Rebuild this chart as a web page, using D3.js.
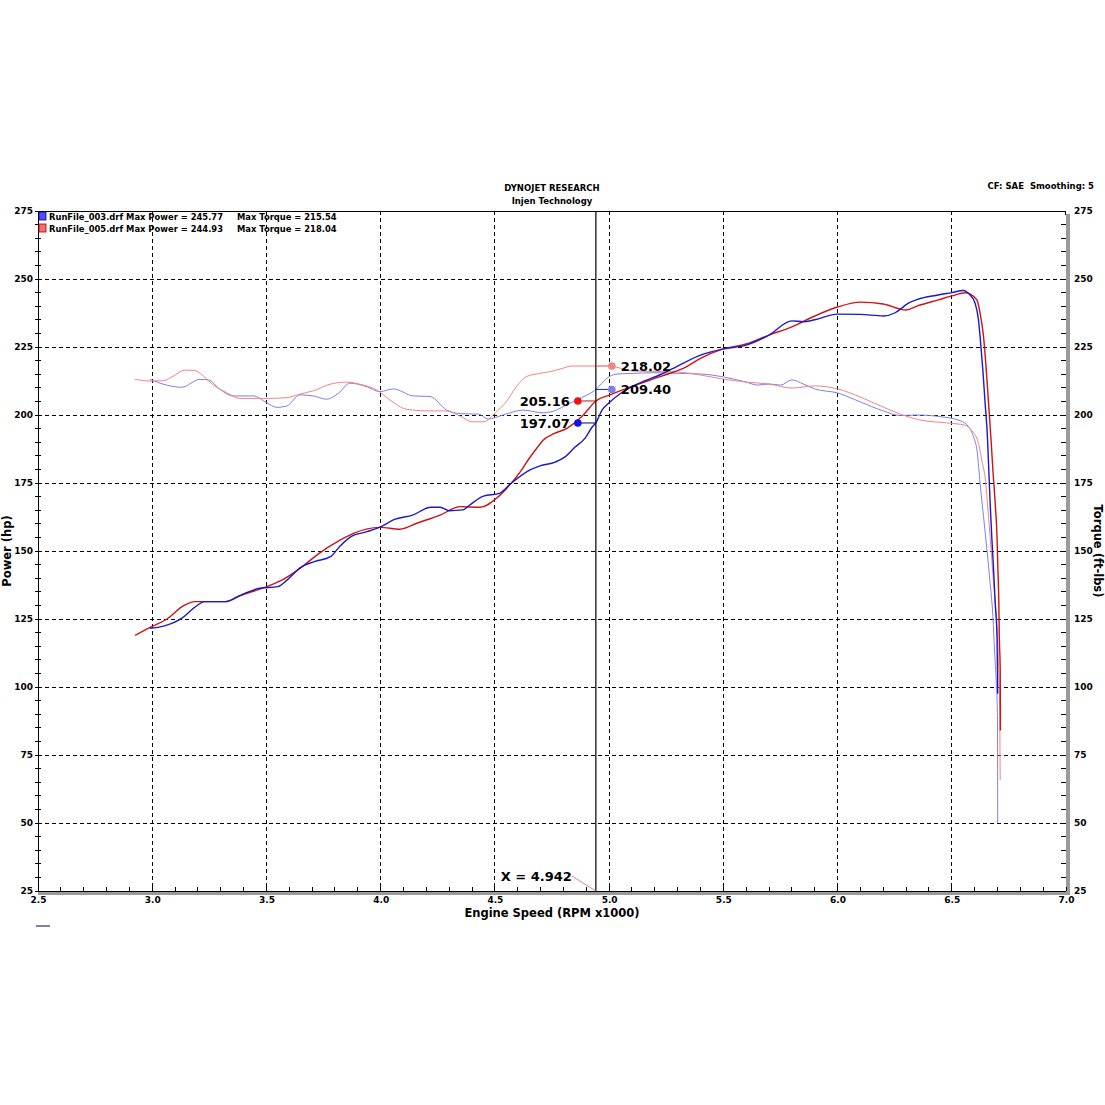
<!DOCTYPE html>
<html><head><meta charset="utf-8">
<script src="https://cdn.jsdelivr.net/npm/d3@7/dist/d3.min.js"></script>
<style>
html,body{margin:0;padding:0;background:#fff;}
svg{display:block;}
text{font-family:"DejaVu Sans",Verdana,sans-serif;font-weight:bold;fill:#000;}
</style></head><body>
<script>
// ---------- data ----------
const yTicks = [25,50,75,100,125,150,175,200,225,250,275];
const xTicks = [2.5,3.0,3.5,4.0,4.5,5.0,5.5,6.0,6.5,7.0];

const bluePowerRpm = [2.99,3.05,3.13,3.18,3.23,3.32,3.38,3.47,3.55,3.59,3.65,3.71,3.78,3.82,3.87,3.94,4.00,4.06,4.14,4.22,4.26,4.30,4.36,4.39,4.45,4.52,4.57,4.654,4.698,4.764,4.807,4.851,4.895,4.926,4.942,4.969,5.0,5.048,5.101,5.158,5.223,5.30,5.40,5.50,5.60,5.70,5.80,5.85,5.90,6.00,6.10,6.20,6.25,6.28,6.30,6.35,6.44,6.50,6.55,6.565,6.58,6.602,6.617,6.624,6.636,6.646,6.656,6.662,6.668,6.675,6.683,6.690,6.698,6.700,6.701];
const bluePower    = [121.6,122.4,125.3,128.9,131.4,131.4,133.5,136.3,136.9,139.3,144.0,146.1,147.9,151.6,155.3,157.1,158.9,161.6,163.2,166.1,166.1,164.8,165.1,166.9,170.2,171.2,174.8,179.8,181.3,182.7,184.6,188.2,191.5,195.6,197.07,201.8,204.5,207.8,210.5,212.6,214.8,218.0,222.0,224.3,225.7,229.4,234.6,234.3,235.0,237.1,237.0,236.4,237.5,239.2,240.6,242.5,244.1,245.0,245.77,245.3,244.1,241.1,234.9,228.8,216.5,204.3,192.0,179.8,167.6,155.3,143.1,130.9,118.6,106.4,97.5];

const redPowerRpm = [2.925,2.998,3.063,3.136,3.187,3.319,3.384,3.501,3.574,3.647,3.720,3.822,3.881,3.997,4.085,4.158,4.260,4.348,4.435,4.515,4.567,4.61,4.65,4.69,4.712,4.76,4.815,4.887,4.942,5.004,5.106,5.223,5.34,5.40,5.50,5.60,5.70,5.80,5.90,6.00,6.10,6.20,6.30,6.35,6.44,6.50,6.56,6.58,6.610,6.624,6.639,6.651,6.661,6.671,6.680,6.690,6.698,6.702,6.706,6.708,6.712,6.713];
const redPower    = [119.0,122.2,124.9,129.8,131.4,131.4,133.5,136.9,139.6,143.6,148.5,154.0,156.5,158.7,158.0,160.2,163.2,166.3,166.1,170.0,174.5,179.0,184.0,188.5,190.8,193.2,195.1,200.0,205.16,207.4,210.7,214.1,217.8,220.8,224.3,226.1,229.4,232.4,236.4,239.7,241.5,240.8,238.6,240.1,242.3,243.8,244.93,244.5,242.3,237.4,228.8,216.5,204.3,192.0,179.8,167.6,155.3,143.1,130.9,118.6,106.4,84.0];

const blueTorqueRpm = [2.990,3.063,3.129,3.209,3.246,3.297,3.355,3.443,3.501,3.545,3.589,3.647,3.705,3.764,3.815,3.866,3.939,3.997,4.056,4.143,4.216,4.289,4.35,4.43,4.47,4.536,4.623,4.71,4.769,4.813,4.857,4.942,4.99,5.03,5.10,5.20,5.30,5.40,5.50,5.60,5.65,5.70,5.75,5.80,5.85,5.90,6.00,6.10,6.20,6.275,6.348,6.449,6.537,6.573,6.595,6.612,6.624,6.639,6.654,6.668,6.680,6.687,6.695,6.700,6.701];
const blueTorque    = [213.1,211.0,210.2,213.1,212.9,209.4,207.0,207.0,204.5,202.8,203.3,207.4,207.0,205.8,208.0,211.7,210.4,208.6,209.6,207.0,206.8,201.8,200.5,200.3,198.5,200.0,201.8,200.8,201.8,203.7,205.5,209.4,213.5,215.0,215.3,215.54,215.3,215.1,214.0,212.1,211.0,211.4,211.0,212.9,211.4,209.6,208.1,204.8,201.5,199.8,200.0,199.4,197.9,195.7,192.0,186.0,174.9,162.6,150.4,138.1,125.9,113.6,101.3,89.1,50.0];

const redTorqueRpm = [2.925,2.990,3.049,3.092,3.144,3.187,3.224,3.268,3.326,3.384,3.501,3.589,3.647,3.705,3.778,3.851,3.910,3.983,4.041,4.114,4.216,4.289,4.35,4.40,4.45,4.507,4.55,4.594,4.638,4.696,4.74,4.798,4.834,4.942,5.0,5.1,5.2,5.3,5.4,5.5,5.6,5.7,5.8,5.9,6.0,6.1,6.2,6.3,6.36,6.49,6.556,6.585,6.617,6.632,6.646,6.661,6.672,6.683,6.695,6.705,6.709,6.712];
const redTorque    = [213.1,212.5,212.6,214.3,216.5,216.3,214.3,211.0,208.2,206.1,206.1,206.4,207.7,208.9,211.3,212.1,211.3,209.2,205.5,202.1,201.5,201.5,199.5,197.5,197.5,201.2,204.9,210.4,214.1,215.3,215.9,217.2,218.0,218.02,218.04,216.2,216.0,215.8,214.7,213.2,212.1,211.4,209.9,210.7,209.6,206.6,202.9,199.6,198.2,197.0,196.3,194.5,189.6,183.0,177.0,162.6,150.4,138.1,125.9,107.5,95.3,65.9];

const cursorRpm = 4.942;
const cursorValues = {bluePower:197.07, redPower:205.16, blueTorque:209.40, redTorque:218.02};
const legendRows = [
  {file:"RunFile_003.drf", power:"245.77", torque:"215.54"},
  {file:"RunFile_005.drf", power:"244.93", torque:"218.04"}
];

// ---------- drawing ----------
const W=1105,H=1105;
const svg=d3.select("body").append("svg").attr("width",W).attr("height",H);
const x=d3.scaleLinear().domain([2.5,7.0]).range([38,1066]);
const y=d3.scaleLinear().domain([25,275]).range([891,211]);

const C={bp:"#1a1ac8",rp:"#cc1414",bt:"#7f7fe6",rt:"#f08484"};

// grid
const g=svg.append("g");
g.selectAll(".hg").data(yTicks.filter(v=>v>25&&v<275)).enter().append("line")
 .attr("x1",x(2.5)).attr("x2",x(7.0)).attr("y1",d=>y(d)).attr("y2",d=>y(d))
 .attr("stroke","#000").attr("stroke-width",1).attr("stroke-dasharray","4,3").attr("shape-rendering","crispEdges");
g.selectAll(".vg").data(xTicks.filter(v=>v>2.5&&v<7.0)).enter().append("line")
 .attr("y1",y(275)).attr("y2",y(25)).attr("x1",d=>x(d)).attr("x2",d=>x(d))
 .attr("stroke","#000").attr("stroke-width",1).attr("stroke-dasharray","4,3").attr("shape-rendering","crispEdges");

// frame
svg.append("rect").attr("x",x(2.5)).attr("y",y(25)).attr("width",x(7.0)-x(2.5)+4).attr("height",4).attr("fill","#9a9a9a");
svg.append("rect").attr("x",x(7.0)).attr("y",y(275)+3).attr("width",4).attr("height",y(25)-y(275)).attr("fill","#9a9a9a");
svg.append("path").attr("d",`M${x(2.5)},${y(25)}V${y(275)}H${x(7.0)-4}Q${x(7.0)},${y(275)} ${x(7.0)},${y(275)+4}`)
 .attr("fill","none").attr("stroke","#000").attr("stroke-width",1).attr("shape-rendering","crispEdges");
svg.append("line").attr("x1",x(2.5)).attr("x2",x(7.0)).attr("y1",y(25)).attr("y2",y(25)).attr("stroke","#000").attr("shape-rendering","crispEdges");

// minor ticks
const minorY=d3.range(25,276,5), minorX=d3.range(25,71).map(v=>v/10);
svg.selectAll(".ly").data(minorY).enter().append("line").attr("x1",x(2.5)-3).attr("x2",x(2.5)+3)
 .attr("y1",d=>y(d)).attr("y2",d=>y(d)).attr("stroke","#000").attr("shape-rendering","crispEdges");
svg.selectAll(".ry").data(minorY).enter().append("line").attr("x1",x(7.0)-5).attr("x2",x(7.0))
 .attr("y1",d=>y(d)).attr("y2",d=>y(d)).attr("stroke","#000").attr("shape-rendering","crispEdges");
svg.selectAll(".bx").data(minorX).enter().append("line").attr("y1",y(25)-4).attr("y2",y(25))
 .attr("x1",d=>x(d)).attr("x2",d=>x(d)).attr("stroke","#000").attr("shape-rendering","crispEdges");

// tick labels via axes
const lAx=svg.append("g").attr("transform",`translate(${x(2.5)},0)`)
 .call(d3.axisLeft(y).tickValues(yTicks).tickSize(0).tickPadding(5).tickFormat(d3.format("d")));
const rAx=svg.append("g").attr("transform",`translate(${x(7.0)},0)`)
 .call(d3.axisRight(y).tickValues(yTicks).tickSize(0).tickPadding(8).tickFormat(d3.format("d")));
const bAx=svg.append("g").attr("transform",`translate(0,${y(25)})`)
 .call(d3.axisBottom(x).tickValues(xTicks).tickSize(0).tickPadding(6).tickFormat(d3.format(".1f")));
[lAx,rAx,bAx].forEach(a=>{a.select(".domain").remove();a.selectAll("text").attr("font-size",9).attr("font-weight","bold").attr("font-family","DejaVu Sans, Verdana, sans-serif").attr("fill","#000");});
lAx.selectAll("text").attr("dy","0.32em");

// curves
const line=d3.line().x(d=>x(d[0])).y(d=>y(d[1])).curve(d3.curveMonotoneX);
const zip=(a,b)=>a.map((v,i)=>[v,b[i]]);
const series=[
 {r:blueTorqueRpm,v:blueTorque,c:C.bt,w:1},
 {r:redTorqueRpm,v:redTorque,c:C.rt,w:1},
 {r:redPowerRpm,v:redPower,c:C.rp,w:1.4},
 {r:bluePowerRpm,v:bluePower,c:C.bp,w:1.4}
];
svg.selectAll(".curve").data(series).enter().append("path")
 .attr("d",d=>line(zip(d.r,d.v))).attr("fill","none").attr("stroke",d=>d.c).attr("stroke-width",d=>d.w);

// cursor
const cx=x(cursorRpm);
svg.append("line").attr("x1",cx).attr("x2",cx).attr("y1",y(275)).attr("y2",y(25)).attr("stroke","#000").attr("stroke-width",1.2);
const marks=[
 {v:cursorValues.redTorque,c:C.rt,side:1,lc:C.rt},
 {v:cursorValues.blueTorque,c:C.bt,side:1,lc:"#2020c0"},
 {v:cursorValues.redPower,c:"#ee1111",side:-1,lc:C.rp},
 {v:cursorValues.bluePower,c:"#1111ee",side:-1,lc:"#000080"}
];
marks.forEach(m=>{
  const mx=cx+m.side*(m.side>0?16:18);
  svg.append("line").attr("x1",cx).attr("x2",mx).attr("y1",y(m.v)).attr("y2",y(m.v)).attr("stroke",m.lc).attr("stroke-width",1);
  svg.append("circle").attr("cx",mx).attr("cy",y(m.v)).attr("r",3.8).attr("fill",m.c);
  svg.append("text").attr("x",mx+(m.side>0?9:-8)).attr("y",y(m.v)).attr("dy","0.36em")
   .attr("text-anchor",m.side>0?"start":"end").attr("font-size",13).text(m.v.toFixed(2));
});
svg.append("text").attr("x",cx-24).attr("y",881).attr("text-anchor","end").attr("font-size",13).text("X = "+cursorRpm.toFixed(3));
svg.append("line").attr("x1",cx-24).attr("y1",876).attr("x2",cx).attr("y2",y(25)).attr("stroke","#e06070").attr("stroke-width",0.8);

// titles
svg.append("text").attr("x",552).attr("y",191).attr("text-anchor","middle").attr("font-size",8.5).text("DYNOJET RESEARCH");
svg.append("text").attr("x",552).attr("y",204).attr("text-anchor","middle").attr("font-size",8.5).text("Injen Technology");
svg.append("text").attr("x",1094).attr("y",189).attr("text-anchor","end").attr("font-size",8.5).attr("xml:space","preserve").style("white-space","pre").text("CF: SAE\u00a0\u00a0Smoothing: 5");
svg.append("text").attr("x",552).attr("y",917).attr("text-anchor","middle").attr("font-size",11.5).text("Engine Speed (RPM x1000)");
svg.append("text").attr("transform",`translate(11,${y(150)}) rotate(-90)`).attr("text-anchor","middle").attr("font-size",11.5).text("Power (hp)");
svg.append("text").attr("transform",`translate(1094,${y(150)}) rotate(90)`).attr("text-anchor","middle").attr("font-size",11.5).text("Torque (ft-lbs)");

// legend
const lg=svg.selectAll(".lg").data(legendRows).enter().append("g").attr("transform",(d,i)=>`translate(39,${212+i*12})`);
lg.append("rect").attr("width",7).attr("height",8).attr("fill",(d,i)=>i?"#f07070":"#5050f0").attr("stroke",(d,i)=>i?"#a00":"#00a").attr("stroke-width",0.8);
lg.append("text").attr("x",10).attr("y",7.5).attr("font-size",8.4).text(d=>`${d.file} Max Power = ${d.power}`);
lg.append("text").attr("x",198).attr("y",7.5).attr("font-size",8.4).text(d=>`Max Torque = ${d.torque}`);

// small stray mark bottom-left
svg.append("line").attr("x1",36).attr("x2",50).attr("y1",926).attr("y2",926).attr("stroke","#000050").attr("stroke-width",1);
</script>
</body></html>
